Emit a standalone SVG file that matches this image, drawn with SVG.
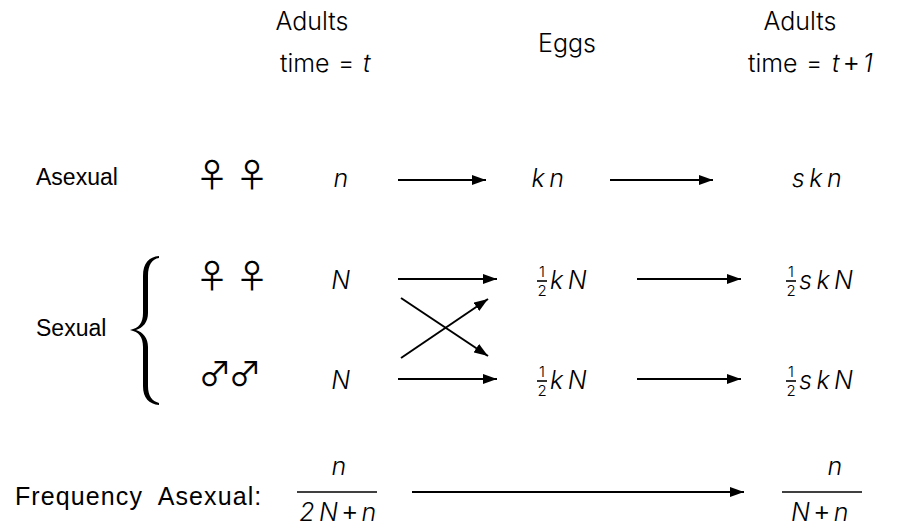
<svg xmlns="http://www.w3.org/2000/svg" width="911" height="528" viewBox="0 0 911 528">
  <defs>
    <marker id="arrowhead" viewBox="0 0 14 10" refX="14" refY="5" markerWidth="14" markerHeight="10" markerUnits="userSpaceOnUse" orient="auto">
      <path d="M0,0 L14,5 L0,10 Z" fill="#000"/>
    </marker>
    <style>
      .hdr { font-family: Inter, "Liberation Sans", sans-serif; font-weight: 300; font-size: 25px; fill: #000; }
      .lbl { font-family: "Liberation Sans", Arial, sans-serif; font-size: 23px; fill: #000; }
      .freq { font-family: "Liberation Sans", Arial, sans-serif; font-size: 25px; letter-spacing: 1.1px; fill: #000; white-space: pre; }
      .math { font-family: Inter, "Liberation Sans", sans-serif; font-weight: 300; font-style: italic; font-size: 25px; letter-spacing: 4.5px; fill: #000; }
      .plus { font-family: "Liberation Sans", Arial, sans-serif; font-style: normal; font-weight: normal; }
      .frac { font-family: Inter, "Liberation Sans", sans-serif; font-weight: 300; font-size: 15px; fill: #000; text-anchor: middle; }
      .sym { font-family: "Noto Sans CJK JP", "DejaVu Sans", sans-serif; font-size: 33px; fill: #000; text-anchor: middle; }
      .arr { stroke: #000; stroke-width: 2; fill: none; marker-end: url(#arrowhead); }
      .bar { stroke: #000; stroke-width: 1.6; }
      .mid { text-anchor: middle; }
    </style>
  </defs>

  <!-- column headers -->
  <g id="header-adults-t">
    <text class="hdr mid" x="312" y="30">Adults</text>
    <text class="hdr" x="280" y="72">time</text>
    <text class="hdr" x="338" y="72">=</text>
    <text class="math" x="363" y="72">t</text>
  </g>
  <g id="header-eggs">
    <text class="hdr mid" x="567" y="52">Eggs</text>
  </g>
  <g id="header-adults-t1">
    <text class="hdr mid" x="800" y="30">Adults</text>
    <text class="hdr" x="748" y="72">time</text>
    <text class="hdr" x="806" y="72">=</text>
    <text class="math" x="832" y="72" letter-spacing="0.5">t<tspan class="plus">+</tspan>1</text>
  </g>

  <!-- asexual row -->
  <g id="asexual-label">
    <text class="lbl" x="36" y="185">Asexual</text>
  </g>
  <g id="asexual-females">
    <text class="sym" x="212" y="187">♀</text>
    <text class="sym" x="252" y="187">♀</text>
  </g>
  <g id="asexual-adults">
    <text class="math mid" x="343" y="187">n</text>
  </g>
  <g id="asexual-eggs">
    <text class="math mid" x="550" y="187">kn</text>
  </g>
  <g id="asexual-next">
    <text class="math mid" x="819" y="187">skn</text>
  </g>

  <!-- sexual row -->
  <g id="sexual-label">
    <text class="lbl" x="36" y="336">Sexual</text>
    <path d="M159,256 C149,257 143,263 143,276 L143,313 C143,323 139,328 130,330 C139,332 143,337 143,347 L143,386 C143,398 149,404 159,405 L159,403 C152,401 148,396 148,386 L148,347 C148,338 143,332 136,330 C143,328 148,322 148,313 L148,276 C148,265 152,259 159,258 Z" fill="#000"/>
  </g>
  <g id="sexual-females">
    <text class="sym" x="212" y="288">♀</text>
    <text class="sym" x="252" y="288">♀</text>
  </g>
  <g id="sexual-males">
    <text class="sym" x="215" y="386">♂</text>
    <text class="sym" x="245" y="386">♂</text>
  </g>
  <g id="female-adults">
    <text class="math mid" x="343" y="289">N</text>
  </g>
  <g id="male-adults">
    <text class="math mid" x="343" y="389">N</text>
  </g>
  <g id="female-eggs">
    <text class="frac" x="542" y="277">1</text>
    <line class="bar" x1="537" y1="281" x2="547" y2="281" stroke-width="1.2"/>
    <text class="frac" x="542" y="296">2</text>
    <text class="math" x="550" y="289" letter-spacing="2">kN</text>
  </g>
  <g id="male-eggs">
    <text class="frac" x="542" y="377">1</text>
    <line class="bar" x1="537" y1="381" x2="547" y2="381" stroke-width="1.2"/>
    <text class="frac" x="542" y="396">2</text>
    <text class="math" x="550" y="389" letter-spacing="2">kN</text>
  </g>
  <g id="female-next">
    <text class="frac" x="791" y="277">1</text>
    <line class="bar" x1="786" y1="281" x2="796" y2="281" stroke-width="1.2"/>
    <text class="frac" x="791" y="296">2</text>
    <text class="math" x="799" y="289" letter-spacing="2.5">skN</text>
  </g>
  <g id="male-next">
    <text class="frac" x="791" y="377">1</text>
    <line class="bar" x1="786" y1="381" x2="796" y2="381" stroke-width="1.2"/>
    <text class="frac" x="791" y="396">2</text>
    <text class="math" x="799" y="389" letter-spacing="2.5">skN</text>
  </g>

  <!-- frequency row -->
  <g id="frequency-label">
    <text class="freq" x="15" y="505">Frequency  Asexual:</text>
  </g>
  <g id="frequency-t">
    <text class="math mid" x="341" y="475">n</text>
    <line class="bar" x1="297" y1="492" x2="377" y2="492"/>
    <text class="math mid" x="340" y="521" letter-spacing="1.5">2N<tspan class="plus">+</tspan>n</text>
  </g>
  <g id="frequency-t1">
    <text class="math mid" x="837" y="475">n</text>
    <line class="bar" x1="782" y1="492" x2="862" y2="492"/>
    <text class="math mid" x="822" y="521" letter-spacing="1.5">N<tspan class="plus">+</tspan>n</text>
  </g>

  <!-- connectors -->
  <g id="connectors">
    <line class="arr" x1="398" y1="180" x2="486" y2="180"/>
    <line class="arr" x1="610" y1="180" x2="713" y2="180"/>
    <line class="arr" x1="398" y1="279" x2="497" y2="279"/>
    <line class="arr" x1="637" y1="279" x2="741" y2="279"/>
    <line class="arr" x1="398" y1="379" x2="497" y2="379"/>
    <line class="arr" x1="637" y1="379" x2="741" y2="379"/>
    <line class="arr" x1="401" y1="298" x2="488" y2="356"/>
    <line class="arr" x1="401" y1="358" x2="488" y2="299"/>
    <line class="arr" x1="412" y1="492" x2="744" y2="492"/>
  </g>
</svg>
